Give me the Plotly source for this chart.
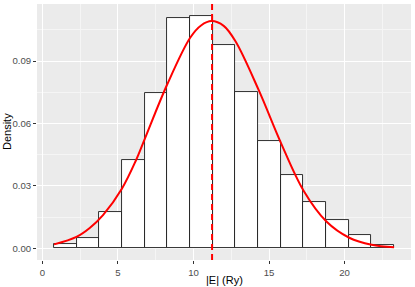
import plotly.graph_objects as go

# ---- data ----
bin_start = 0.77
bin_width = 1.5
bar_density = [0.0019, 0.0050, 0.0173, 0.0423, 0.0748, 0.1105, 0.1117, 0.0976,
               0.0751, 0.0518, 0.0353, 0.0222, 0.0134, 0.0063, 0.0017]

curve_x = [0.77, 2.25, 3.13, 4.01, 5.27, 6.18, 6.77, 8.25, 9.78, 10.5, 11.2,
           12.0, 12.78, 14.32, 15.78, 17.28, 18.8, 20.31, 21.79, 23.28]
curve_y = [0.0019, 0.0055, 0.0098, 0.0160, 0.0288, 0.0421, 0.0525, 0.0786,
           0.1012, 0.1071, 0.1092, 0.1069, 0.0995, 0.0760, 0.0508, 0.0278,
           0.0129, 0.0051, 0.0017, 0.0005]

mean_E = 11.23

x_ticks = [0, 5, 10, 15, 20]
y_ticks = [0.00, 0.03, 0.06, 0.09]
y_tick_labels = ["0.00", "0.03", "0.06", "0.09"]
x_title = "|E| (Ry)"
y_title = "Density"

bar_centers = [bin_start + bin_width * (i + 0.5) for i in range(len(bar_density))]

fig = go.Figure()
fig.add_trace(go.Bar(
    x=bar_centers, y=bar_density, width=bin_width,
    marker=dict(color="white", line=dict(color="#1A1A1A", width=0.9)),
    hoverinfo="skip", showlegend=False,
))
fig.add_trace(go.Scatter(
    x=curve_x, y=curve_y, mode="lines",
    line=dict(color="#FF0000", width=2, shape="spline", smoothing=1.0),
    showlegend=False,
))
fig.add_shape(type="line", xref="x", yref="paper", x0=mean_E, x1=mean_E, y0=0, y1=1,
              line=dict(color="#FF0000", width=2, dash="6px,4px"))

fig.add_annotation(text=x_title, xref="paper", yref="paper", x=0.5, y=0,
                   xanchor="center", yanchor="top", yshift=-12, showarrow=False,
                   font=dict(size=11, color="black"))
fig.add_annotation(text=y_title, xref="paper", yref="paper", x=0, y=0.5,
                   xanchor="right", yanchor="middle", xshift=-22, textangle=-90,
                   showarrow=False, font=dict(size=11, color="black"))

grid_major = "white"
fig.update_layout(
    width=415, height=287,
    margin=dict(l=37, r=4, t=4, b=27),
    paper_bgcolor="white", plot_bgcolor="#EBEBEB",
    font=dict(family="Liberation Sans, Arial, sans-serif", color="#4D4D4D", size=9.6),
    bargap=0,
    xaxis=dict(
        range=[-0.36, 24.40], tickvals=x_ticks, ticktext=[str(v) for v in x_ticks],
        showgrid=True, gridcolor=grid_major, gridwidth=1,
        minor=dict(showgrid=True, gridcolor="#F5F5F5", gridwidth=0.6, dtick=2.5, tick0=0),
        ticks="outside", ticklen=3, tickwidth=0.8, tickcolor="#333333",
        zeroline=False, showline=False, automargin=False,
        tickfont=dict(size=9.6, color="#4D4D4D"),
    ),
    yaxis=dict(
        range=[-0.0056, 0.1174], tickvals=y_ticks, ticktext=y_tick_labels,
        showgrid=True, gridcolor=grid_major, gridwidth=1,
        minor=dict(showgrid=True, gridcolor="#F5F5F5", gridwidth=0.6, dtick=0.015, tick0=0),
        ticks="outside", ticklen=3, tickwidth=0.8, tickcolor="#333333",
        zeroline=False, showline=False, automargin=False,
        tickfont=dict(size=9.6, color="#4D4D4D"),
    ),
)

fig.write_html("out.html", config={"displayModeBar": False},
               post_script="document.body.style.margin='0px';")
